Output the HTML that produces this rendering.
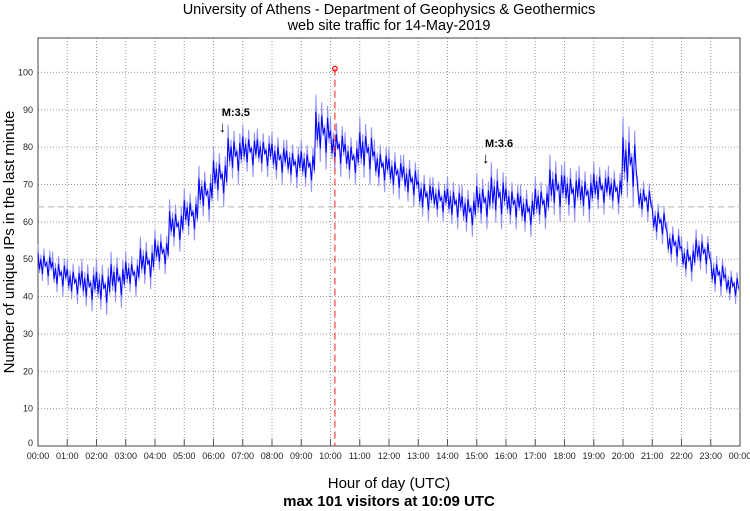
<!DOCTYPE html>
<html><head><meta charset="utf-8"><style>
body{margin:0;background:#fff;font-family:"Liberation Sans",sans-serif}
svg{display:block}
</style></head><body>
<svg id="chart" width="750" height="511" viewBox="0 0 750 511" xmlns="http://www.w3.org/2000/svg">
<text x="389" y="14" font-size="14.5" text-anchor="middle" font-family="Liberation Sans">University of Athens - Department of Geophysics &amp; Geothermics</text>
<text x="389" y="30" font-size="14.5" text-anchor="middle" font-family="Liberation Sans">web site traffic for 14-May-2019</text>
<text transform="translate(14,242) rotate(-90)" font-size="15" text-anchor="middle" font-family="Liberation Sans">Number of unique IPs in the last minute</text>
<text x="389" y="488" font-size="15" text-anchor="middle" font-family="Liberation Sans">Hour of day (UTC)</text>
<text x="389" y="506" font-size="15" font-weight="bold" text-anchor="middle" font-family="Liberation Sans">max 101 visitors at 10:09 UTC</text>
<g id="grid"></g>
<g id="series"></g>
<g id="overlay"></g>
</svg>
<script>
const hourLabels=["00:00","01:00","02:00","03:00","04:00","05:00","06:00","07:00","08:00","09:00","10:00","11:00","12:00","13:00","14:00","15:00","16:00","17:00","18:00","19:00","20:00","21:00","22:00","23:00","00:00"];
const yTicks=[0,10,20,30,40,50,60,70,80,90,100];
// half-hour windows: low and high visitor counts
const lowVals=[43,40,38,36,35,37,40,42,46,52,55,60,64,70,72,72,70,69,68,74,72,70,70,68,66,64,60,60,58,56,58,58,58,56,58,60,60,60,62,62,64,60,54,48,44,46,40,38];
const highVals=[54,52,50,50,50,52,52,56,58,66,69,75,80,86,86,85,84,82,82,94,88,84,88,82,80,78,74,72,72,70,73,76,72,70,72,78,76,75,76,75,88,72,66,60,56,58,52,48];
const meanLine=64;
const maxVal=101, maxMinute=609;
const quakes=[{label:"M:3.5",minute:377},{label:"M:3.6",minute:917}];

const NS="http://www.w3.org/2000/svg";
const L=38,R=740,T=38,B=446;
const x=m=>L+(R-L)*m/1440;
const y=v=>B-(B-72.4)*v/100;
function mk(tag,attrs,parent){const e=document.createElementNS(NS,tag);for(const k in attrs)e.setAttribute(k,attrs[k]);parent.appendChild(e);return e;}
const grid=document.getElementById('grid'),series=document.getElementById('series'),ov=document.getElementById('overlay');

hourLabels.forEach((lab,i)=>{
  const xx=x(i*60);
  if(i>0&&i<24){const g=mk('line',{x1:xx,x2:xx,y1:T,y2:B,stroke:'#999','stroke-dasharray':'1,2'},grid);
  
  }
  const tk=mk('line',{x1:xx,x2:xx,y1:B,y2:B-7,stroke:'#555'},grid);
  
  
  const t=mk('text',{x:xx,y:B+13,'font-size':9,'text-anchor':'middle',fill:'#222'},grid);
  t.textContent=lab;
  
  
});
yTicks.forEach(v=>{
  const yy=y(v);
  if(v>0){const g=mk('line',{x1:L,x2:R,y1:yy,y2:yy,stroke:'#999','stroke-dasharray':'1,2'},grid);
  
  }
  const t=mk('text',{x:L-5,y:yy+(v==0?0:3),'font-size':9,'text-anchor':'end',fill:'#222'},grid);
  t.textContent=v;
  
  
});
const frame=mk('rect',{x:L,y:T,width:R-L,height:B-T,fill:'none',stroke:'#444'},grid);



const ml=mk('line',{x1:L,x2:R,y1:y(meanLine),y2:y(meanLine),stroke:'#aab8aa','stroke-dasharray':'6,4'},grid);



const pat=[1,0.3,0.75,0.1,0.9,0.45,0.6,0.0,0.85,0.35];
function band(frac,color,width,name){
  let pts=[];
  lowVals.forEach((lo,i)=>{
    const hi=highVals[i],mid=(lo+hi)/2,half=(hi-lo)/2*frac;
    const n=pat.length;
    for(let k=0;k<n;k++){
      const m=i*30+30*k/n;
      const v=mid-half+2*half*pat[k];
      pts.push(x(m).toFixed(1)+','+y(v).toFixed(1));
    }
  });
  const p=mk('polyline',{points:pts.join(' '),fill:'none',stroke:color,'stroke-width':width},series);
  
  
}
band(1,'#9090ff',1,'traffic-series-range');
band(0.55,'#0000ff',1,'traffic-series');

const vl=mk('line',{x1:x(maxMinute),x2:x(maxMinute),y1:y(maxVal),y2:B,stroke:'#ff4040','stroke-dasharray':'7,4','stroke-width':1.2},ov);


const mc=mk('circle',{cx:x(maxMinute),cy:y(maxVal),r:2.3,fill:'none',stroke:'#ff0000','stroke-width':1.2},ov);



quakes.forEach(q=>{
  const xx=x(q.minute);
  const top = q.minute<600 ? 116 : 147;
  const t=mk('text',{x:xx,y:top,'font-size':11,'font-weight':'bold'},ov);
  t.textContent=q.label;
  
  
  const a=mk('text',{x:xx-3,y:top+16,'font-size':15},ov);
  a.textContent='↓';
  
  
});
</script>
</body></html>
